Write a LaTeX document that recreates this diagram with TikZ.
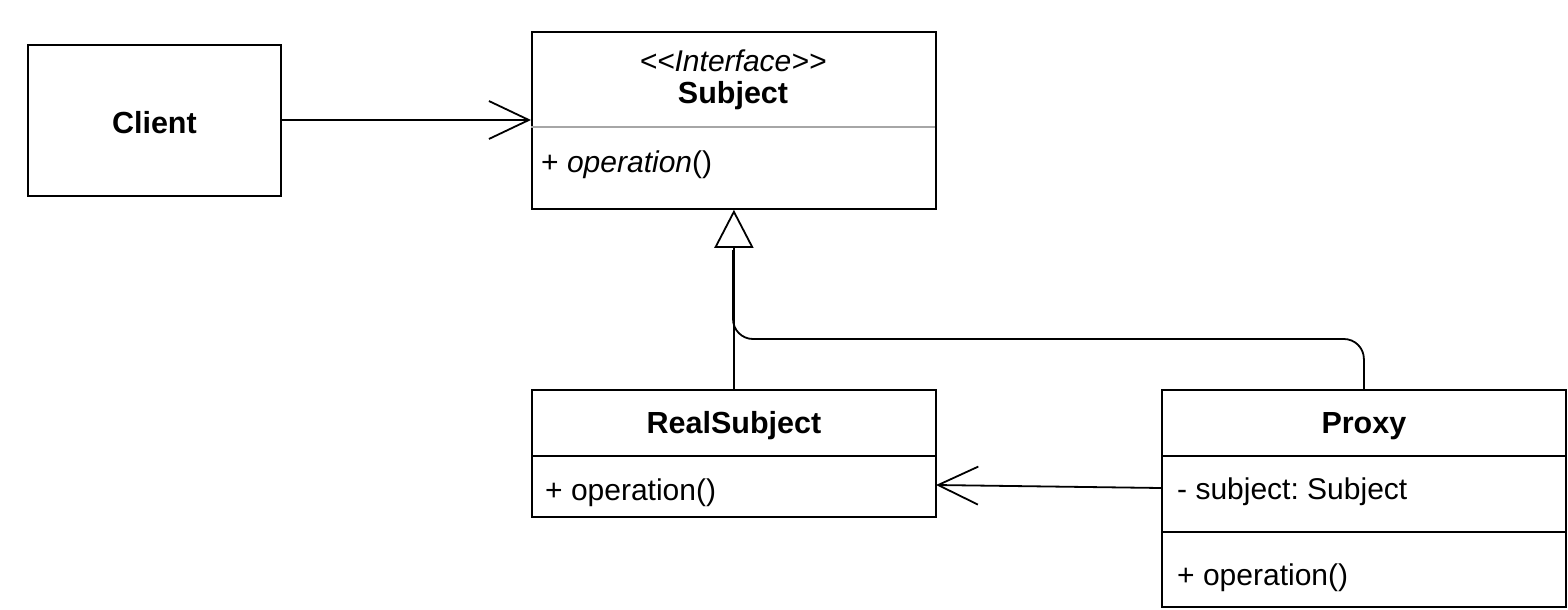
\documentclass[tikz,border=0pt]{standalone}
\usepackage{fontspec}
\setmainfont{Liberation Sans}
\usetikzlibrary{arrows.meta}
\frenchspacing
\begin{document}
\begin{tikzpicture}[x=1pt,y=-1pt,
  box/.style={draw=black, line width=1.8pt, rectangle, inner sep=0pt, anchor=north west},
  lbl/.style={inner sep=0pt, font=\fontsize{30}{35}\selectfont},
  blbl/.style={inner sep=0pt, font=\fontsize{30.5}{35}\selectfont\bfseries},
  wire/.style={line width=1.8pt, draw=black},
  openarrow/.style={-{Straight Barb[length=40pt,width=38pt,line width=1.8pt]}},
  genarrow/.style={-{Triangle[open,length=38pt,width=39pt,line width=1.8pt,fill=white]}}
]
\useasboundingbox (0,0) rectangle (1568,610);

% Client
\node[box, minimum width=253pt, minimum height=151pt] (client) at (27,44) {};
\node[blbl] (clientlbl) at ([yshift=-2pt]client.center) {Client};

% Subject
\node[box, minimum width=404pt, minimum height=177pt] (subj) at (531,31) {};
\coordinate (subjdl) at (531,127);
\coordinate (subjdr) at (935,127);
\draw[line width=1.4pt, draw=black!35] (subjdl) -- (subjdr);
\node[lbl, font=\fontsize{30}{35}\selectfont\itshape] (subjst) at (733,61) {<\kern0pt<Interface>\kern0pt>};
\node[blbl] (subjname) at (733,96) {Subject};
\node[lbl, anchor=west] (subjop) at (541,165) {+ \textit{operation}()};

% RealSubject
\node[box, minimum width=404pt, minimum height=66pt] (rshead) at (531,389) {};
\node[box, minimum width=404pt, minimum height=61pt] (rsbody) at (531,455) {};
\node[blbl] (rsname) at ([yshift=-3pt]rshead.center) {RealSubject};
\node[lbl, anchor=west] (rsop) at (545,493) {+ operation()};

% Proxy
\node[box, minimum width=404pt, minimum height=66pt] (pxhead) at (1161,389) {};
\node[box, minimum width=404pt, minimum height=76pt] (pxattr) at (1161,455) {};
\node[box, minimum width=404pt, minimum height=75pt] (pxops) at (1161,531) {};
\node[blbl] (pxname) at ([yshift=-3pt]pxhead.center) {Proxy};
\node[lbl, anchor=west] (pxattrlbl) at (1177,492) {- subject: Subject};
\node[lbl, anchor=west] (pxopslbl) at (1177,578) {+ operation()};

% Client -> Subject
\coordinate (clientout) at (280,120);
\coordinate (subjin) at (531,120);
\draw[wire, openarrow] (clientout) -- (subjin);

% Proxy -> Subject (branch joining generalization)
\coordinate (bend) at (733,339);
\coordinate (trbase) at (733,250);
\draw[wire, rounded corners=20pt] (pxhead.north) -- (pxhead.north |- bend) -- (bend) -- (trbase);

% RealSubject -> Subject generalization
\draw[wire, genarrow] (rshead.north) -- (subj.south);

% Proxy -> RealSubject
\coordinate (pxout) at (1161,488);
\coordinate (rsin) at (936,485);
\draw[wire, openarrow] (pxout) -- (rsin);
\end{tikzpicture}
\end{document}
